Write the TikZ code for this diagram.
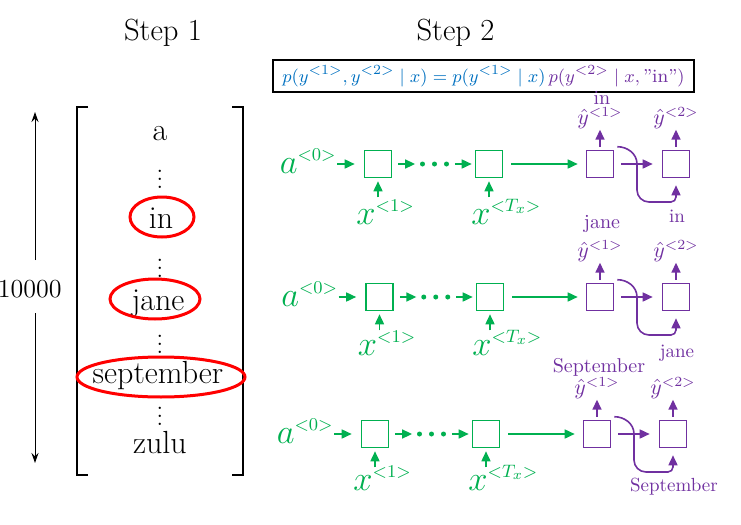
\documentclass[tikz,border=0pt]{standalone}
\usetikzlibrary{arrows.meta,calc}
\DeclareMathSizes{16}{16}{9.5}{7}
\DeclareMathSizes{11}{11}{6.6}{5}
\definecolor{rnngreen}{RGB}{0,176,80}
\definecolor{rnnpurple}{RGB}{112,48,160}
\definecolor{rnnblue}{RGB}{0,112,192}
\tikzset{
  gbox/.style={draw=rnngreen, line width=0.8pt, minimum size=13.5pt, inner sep=0pt},
  pbox/.style={draw=rnnpurple, line width=0.8pt, minimum size=13.5pt, inner sep=0pt},
  garrow/.style={draw=rnngreen, line width=0.8pt, -{Triangle[length=5pt,width=4.5pt]}},
  parrow/.style={draw=rnnpurple, line width=0.8pt, -{Triangle[length=5pt,width=4.5pt]}},
  blarrow/.style={draw=black, line width=0.5pt, -{Stealth[length=5pt,width=3.5pt]}},
  glab/.style={text=rnngreen, inner sep=0pt, font=\fontsize{16}{18}\selectfont},
  gdots/.style={inner sep=0pt, minimum width=19pt, minimum height=3pt},
  plab/.style={text=rnnpurple, inner sep=0pt, font=\fontsize{11}{13}\selectfont},
  pword/.style={text=rnnpurple, inner sep=0pt, font=\fontsize{10}{12}\selectfont},
  pwordsm/.style={text=rnnpurple, inner sep=0pt, font=\fontsize{9.5}{11}\selectfont},
  word/.style={inner sep=0pt, font=\fontsize{16}{19}\selectfont},
  vdotlab/.style={inner sep=0pt, font=\fontsize{12}{14}\selectfont},
  steplab/.style={inner sep=0pt, font=\fontsize{15.3}{18}\selectfont},
  redring/.style={draw=red, line width=1.5pt},
}
\begin{document}
\begin{tikzpicture}[x=0.5pt,y=-0.5pt]
\useasboundingbox (0,0) rectangle (741,525);

% ---- Step 1 ----
\node[steplab, anchor=base] (s1) at (163,40) {Step 1};
\node[steplab, anchor=base] (s2) at (455.5,40) {Step 2};

\draw[line width=0.7pt] (88,107) -- (77,107) -- (77,475) -- (88,475);
\draw[line width=0.7pt] (232,107) -- (243,107) -- (243,475) -- (232,475);

\node[word, anchor=base] (wa) at (160,140) {a};
\node[vdotlab] (d1) at (160,173) {$\vdots$};
\node[word, anchor=base] (win) at (161,228) {in};
\node[vdotlab] (d2) at (160,262) {$\vdots$};
\node[word, anchor=base] (wjane) at (158,310) {jane};
\node[vdotlab] (d3) at (160,338) {$\vdots$};
\node[word, anchor=base] (wsep) at (158,383) {september};
\node[vdotlab] (d4) at (160,410) {$\vdots$};
\node[word, anchor=base] (wzulu) at (160,453) {zulu};

\draw[redring] (162,217) ellipse [x radius=16pt, y radius=10pt];
\draw[redring] (155,299) ellipse [x radius=22.5pt, y radius=10pt];
\draw[redring] (161,377) ellipse [x radius=42pt, y radius=10pt];

\node[font=\fontsize{13}{15}\selectfont, inner sep=0pt, anchor=base east] (num) at (62,297) {10000};
\coordinate (vtop) at (35,112);
\coordinate (vbot) at (35,463);
\coordinate (vt1) at (35,260);
\coordinate (vb1) at (35,313);
\draw[blarrow] (vt1) -- (vtop);
\draw[blarrow] (vb1) -- (vbot);

% ---- Step 2 ----
\node[draw, line width=0.75pt, minimum width=210.5pt, minimum height=16pt, inner sep=0pt,
      font=\fontsize{9.4}{11}\selectfont] (eq) at (483.5,76)
  {\color{rnnblue}$p(y^{<1>},y^{<2>}\mid x)=p(y^{<1>}\mid x)\,$\color{rnnpurple}$p(y^{<2>}\mid x,\textrm{"in"})$};

\foreach \r/\y/\xa/\xb/\xc/\xd/\xy/\tw/\ty/\bw/\by in {
  A/164/378/489/600/676/60/in/104/in/222,
  B/297/379.5/490/600/676/58/jane/228/jane/357,
  C/434/375/486/597/673/56/September/372/September/491}{
  \node[gbox] (\r-b1) at (\xa,\y) {};
  \node[gbox] (\r-b2) at (\xb,\y) {};
  \node[pbox] (\r-p1) at (\xc,\y) {};
  \node[pbox] (\r-p2) at (\xd,\y) {};
  \node[glab, anchor=base east] (\r-a) at (\xa-41,\y+9) {$a^{<0>}$};
  \node[gdots] (\r-d) at ({(\xa+\xb)/2+1},\y) {};
  \fill[rnngreen] ([xshift=-6pt]\r-d.center) circle[radius=1.25pt]
                  (\r-d.center) circle[radius=1.25pt]
                  ([xshift=6pt]\r-d.center) circle[radius=1.25pt];
  \node[glab, anchor=base west] (\r-x1) at (\xa-22,\y+\xy) {$x^{<1>}$};
  \node[glab, anchor=base west] (\r-x2) at (\xb-18,\y+\xy) {$x^{<T_x>}$};
  \node[plab, anchor=base] (\r-y1) at (\xc,\y-40) {$\hat{y}^{<1>}$};
  \node[plab, anchor=base] (\r-y2) at (\xd,\y-40) {$\hat{y}^{<2>}$};
  \node[pword, anchor=base] (\r-tw) at (\xc+2,\ty) {\tw};
  \node[pwordsm, anchor=base] (\r-bw) at (\xd+1,\by) {\bw};
  \draw[garrow, shorten >=4.5pt] (\r-a.east |- \r-b1) -- (\r-b1);
  \draw[garrow, shorten <=3pt] (\r-b1) -- (\r-d);
  \draw[garrow, shorten <=0.5pt, shorten >=1.5pt] (\r-d) -- (\r-b2);
  \draw[garrow, shorten <=4pt, shorten >=4pt] (\r-b2) -- (\r-p1);
  \draw[parrow, shorten <=3.5pt, shorten >=4.5pt] (\r-p1) -- (\r-p2);
  \draw[garrow] ([yshift=-9.5pt]\r-b1.south) -- ([yshift=-1.5pt]\r-b1.south);
  \draw[garrow] ([yshift=-9.5pt]\r-b2.south) -- ([yshift=-1.5pt]\r-b2.south);
  \draw[parrow] ([yshift=1.5pt]\r-p1.north) -- ++(0,-17);
  \draw[parrow] ([yshift=1.5pt]\r-p2.north) -- ++(0,-17);
  \draw[parrow] ([shift={(1.5pt,1.5pt)}]\r-p1.north east) to[out=0,in=90] (\xc+37,\y)
     -- (\xc+37,\y+26) to[out=-90,in=180] (\xc+49,\y+38) -- (\xd-5,\y+38)
     to[out=0,in=-90] (\xd,\y+33) -- ([yshift=-3.5pt]\r-p2.south);
}
\end{tikzpicture}
\end{document}
